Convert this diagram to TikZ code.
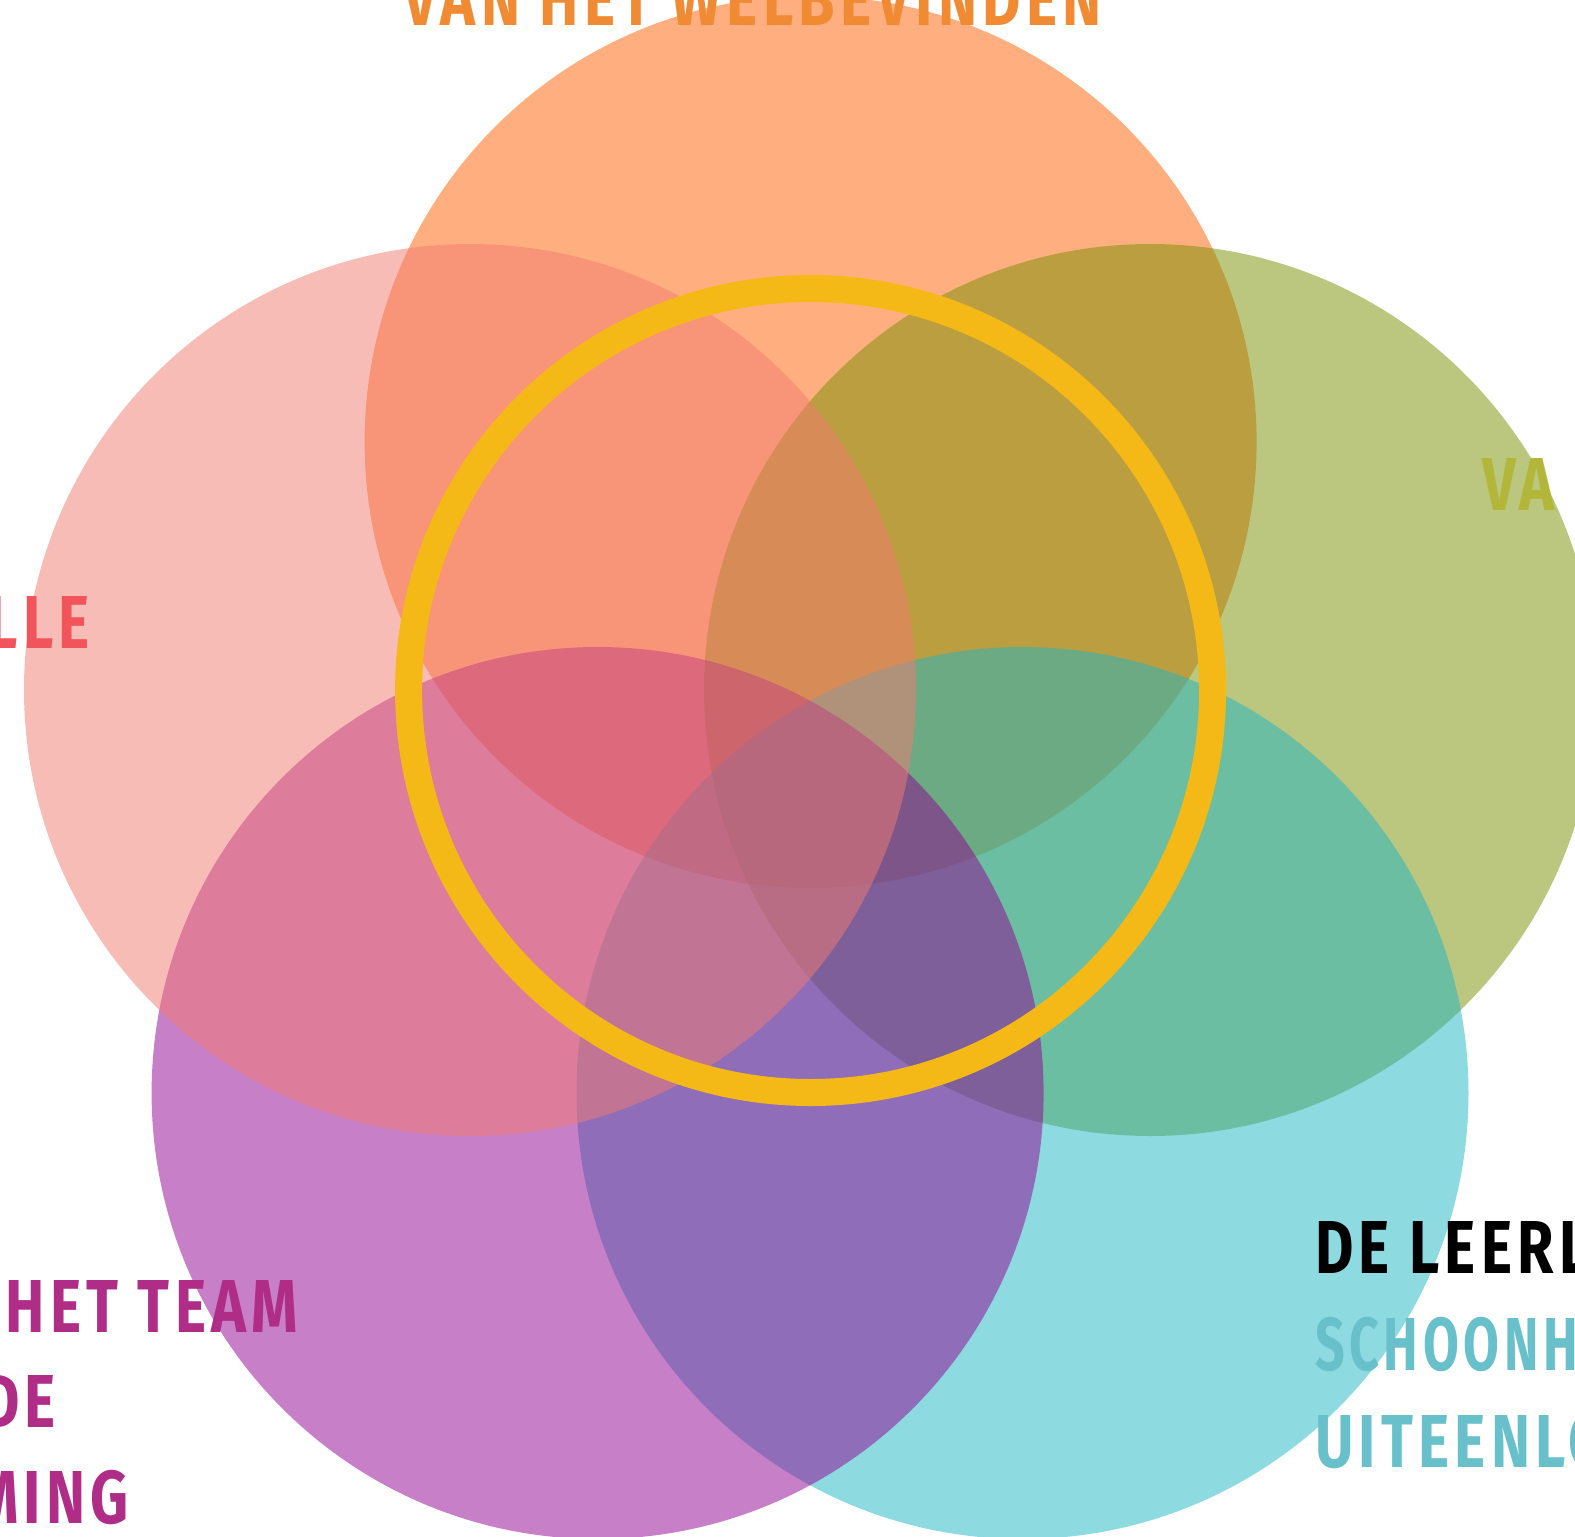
\documentclass[tikz,border=0pt]{standalone}
\usepackage{fontspec}
\usepackage{graphicx}
\newfontfamily\brushfont{Fira Sans}[LetterSpace=9]
\definecolor{cOrange}{RGB}{255,97,1}
\definecolor{cGreen}{RGB}{121,143,1}
\definecolor{cCyan}{RGB}{29,183,197}
\definecolor{cPurple}{RGB}{145,1,145}
\definecolor{cPink}{RGB}{243,123,113}
\definecolor{cRing}{RGB}{244,185,23}
\definecolor{tOrange}{RGB}{240,139,52}
\definecolor{tGreen}{RGB}{178,183,58}
\definecolor{tRed}{RGB}{242,84,91}
\definecolor{tPurple}{RGB}{175,45,135}
\definecolor{tCyan}{RGB}{104,193,202}
\newsavebox\refbox
\AtBeginDocument{%
  \sbox\refbox{\brushfont\bfseries VAN HET WELBEVINDEN}%
  \pgfmathsetmacro\bsx{699/\the\wd\refbox}%
  \pgfmathsetmacro\bsy{52/\the\ht\refbox}%
}
\newcommand\brush[2][1]{\pgfmathsetmacro\bsxx{\bsx*#1}\scalebox{\bsxx}[\bsy]{\brushfont\bfseries #2}}
\tikzset{
  disc/.style={circle, inner sep=0pt, outer sep=0pt, minimum size=892pt, fill opacity=0.5, draw=none},
  ring/.style={circle, inner sep=0pt, outer sep=0pt, minimum size=804pt, draw=cRing, line width=27pt},
  lbl/.style={inner sep=0pt, outer sep=0pt},
}
\begin{document}
\begin{tikzpicture}[x=1pt,y=-1pt]
\useasboundingbox (0,0) rectangle (1575,1537);
\fill[white] (0,0) rectangle (1575,1537);
\clip (0,0) rectangle (1575,1537);
\node[disc, fill=cOrange] (orange) at (810.6,442) {};
\node[disc, fill=cGreen] (green) at (1150,690) {};
\node[disc, fill=cCyan] (cyan) at (1022.5,1093) {};
\node[disc, fill=cPurple] (purple) at (597.6,1093) {};
\node[disc, fill=cPink] (pink) at (470,690) {};
\node[ring] (ring) at (810.6,690.5) {};
\node[lbl, anchor=base west, text=tOrange] (t1) at (403,25) {\brush{VAN HET WELBEVINDEN}};
\node[lbl, anchor=base west, text=tGreen] (t2) at (1482,510) {\brush{VA}};
\node[lbl, anchor=base east, text=tRed] (t3) at (90,648) {\brush{LLE}};
\node[lbl, anchor=base east, text=tPurple] (t4) at (298,1332) {\brush{HET TEAM}};
\node[lbl, anchor=base east, text=tPurple] (t5) at (56,1427) {\brush{DE}};
\node[lbl, anchor=base east, text=tPurple] (t6) at (129,1523) {\brush{MING}};
\node[lbl, anchor=base west, text=black] (t7) at (1315,1273) {\brush{DE LEERL}};
\node[lbl, anchor=base west, text=tCyan] (t8) at (1315,1370) {\brush[0.88]{SCHOONH}};
\node[lbl, anchor=base west, text=tCyan] (t9) at (1315,1467) {\brush{UITEENLO}};
\end{tikzpicture}
\end{document}
